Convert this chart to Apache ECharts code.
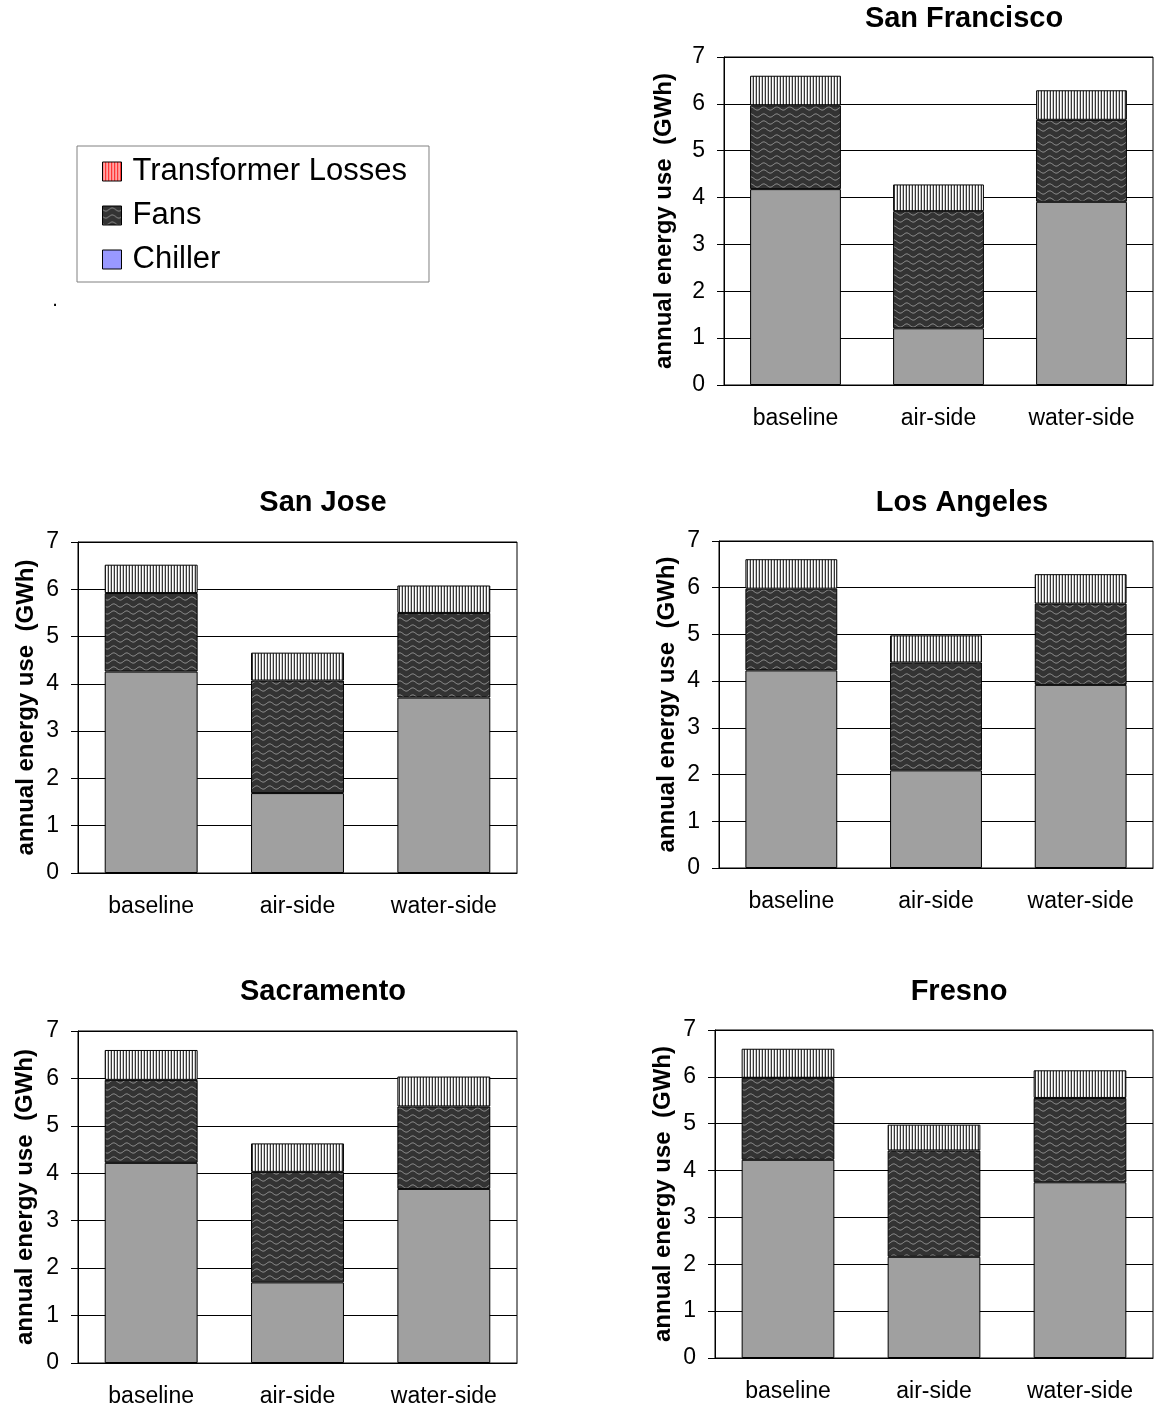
<!DOCTYPE html>
<html><head><meta charset="utf-8">
<script src="https://cdn.jsdelivr.net/npm/echarts@6/dist/echarts.min.js"></script>
<style>html,body{margin:0;padding:0;background:#fff}#c{width:1154px;height:1412px}</style>
</head><body><div id="c"></div>
<script>
// ---- data ----
const categories = ['baseline', 'air-side', 'water-side'];
const cities = ['San Francisco', 'San Jose', 'Los Angeles', 'Sacramento', 'Fresno'];
const seriesNames = ['Chiller', 'Fans', 'Transformer Losses'];
const yTickValues = [0, 1, 2, 3, 4, 5, 6, 7];

const chillerSF = [4.18, 1.21, 3.91];
const fansSF = [1.79, 2.50, 1.75];
const transSF = [0.63, 0.57, 0.63];

const chillerSJ = [4.26, 1.69, 3.71];
const fansSJ = [1.66, 2.38, 1.79];
const transSJ = [0.60, 0.59, 0.58];

const chillerLA = [4.23, 2.09, 3.92];
const fansLA = [1.75, 2.31, 1.74];
const transLA = [0.63, 0.58, 0.63];

const chillerSac = [4.22, 1.70, 3.67];
const fansSac = [1.75, 2.33, 1.74];
const transSac = [0.63, 0.60, 0.63];

const chillerFresno = [4.23, 2.16, 3.75];
const fansFresno = [1.75, 2.27, 1.80];
const transFresno = [0.62, 0.55, 0.59];

const chillerData = [chillerSF, chillerSJ, chillerLA, chillerSac, chillerFresno];
const fansData = [fansSF, fansSJ, fansLA, fansSac, fansFresno];
const transData = [transSF, transSJ, transLA, transSac, transFresno];

// ---- layout ----
const layouts = [
  {left: 724, top: 57, width: 429, height: 328, titleX: 964, titleY: 19, nameGap: 48},
  {left: 78, top: 542, width: 439, height: 331, titleX: 323, titleY: 503, nameGap: 40},
  {left: 719, top: 541, width: 434, height: 327, titleX: 962, titleY: 503, nameGap: 40},
  {left: 78, top: 1031, width: 439, height: 332, titleX: 323, titleY: 992, nameGap: 41},
  {left: 715, top: 1030, width: 438, height: 328, titleX: 959, titleY: 992, nameGap: 40}
];

// ---- patterns ----
function stripes(cols) {
  const c = document.createElement('canvas');
  c.width = cols.length; c.height = 2;
  const ctx = c.getContext('2d');
  cols.forEach((col, i) => { ctx.fillStyle = col; ctx.fillRect(i, 0, 1, 2); });
  return {image: c, repeat: 'repeat'};
}
function waves(bg, fg) {
  const c = document.createElement('canvas');
  c.width = 13; c.height = 7;
  const ctx = c.getContext('2d');
  ctx.fillStyle = bg; ctx.fillRect(0, 0, 13, 7);
  ctx.strokeStyle = fg; ctx.lineWidth = 1;
  ctx.beginPath();
  for (let x = -1; x <= 14; x += 0.5) {
    const y = 3.5 + 1.6 * Math.sin(2 * Math.PI * x / 13);
    if (x === -1) ctx.moveTo(x, y); else ctx.lineTo(x, y);
  }
  ctx.stroke();
  return {image: c, repeat: 'repeat'};
}
const transPattern = stripes(['#383838', '#ffffff', '#c4c4c4']);
const fansPattern = waves('#333333', '#9a9a9a');
const legTransPattern = stripes(['#ff1a1a', '#ffffff', '#ff4d4d']);
const chillerColor = '#a0a0a0';

const FONT = 'Liberation Sans, Arial, sans-serif';

const grid = [], xAxis = [], yAxis = [], series = [], graphic = [];
layouts.forEach((L, i) => {
  grid.push({left: L.left, top: L.top, width: L.width, height: L.height, show: true,
    borderColor: '#000', borderWidth: 1, backgroundColor: '#fff', containLabel: false});
  xAxis.push({type: 'category', gridIndex: i, data: categories,
    axisLine: {show: true, lineStyle: {color: '#000', width: 1}},
    axisTick: {show: false},
    axisLabel: {color: '#000', fontFamily: FONT, fontSize: 23, margin: 22},
    splitLine: {show: false}});
  yAxis.push({type: 'value', gridIndex: i, min: yTickValues[0], max: yTickValues[yTickValues.length - 1], interval: 1,
    name: 'annual energy use  (GWh)', nameLocation: 'middle', nameRotate: 90, nameGap: L.nameGap,
    nameTextStyle: {color: '#000', fontFamily: FONT, fontSize: 24, fontWeight: 'bold'},
    axisLine: {show: true, lineStyle: {color: '#000', width: 1}},
    axisTick: {show: true, inside: false, length: 7, lineStyle: {color: '#000', width: 1}},
    axisLabel: {color: '#000', fontFamily: FONT, fontSize: 23, margin: 19},
    splitLine: {show: true, lineStyle: {color: '#000', width: 1}}});
  const common = {type: 'bar', xAxisIndex: i, yAxisIndex: i, stack: 's' + i, barWidth: '63.5%',
    emphasis: {disabled: true}, silent: true};
  series.push(Object.assign({}, common, {name: seriesNames[0], data: chillerData[i],
    itemStyle: {color: chillerColor, borderColor: '#000', borderWidth: 1}}));
  series.push(Object.assign({}, common, {name: seriesNames[1], data: fansData[i],
    itemStyle: {color: fansPattern, borderColor: '#000', borderWidth: 1}}));
  series.push(Object.assign({}, common, {name: seriesNames[2], data: transData[i],
    itemStyle: {color: transPattern, borderColor: '#000', borderWidth: 1}}));
  graphic.push({type: 'text', x: L.titleX, y: L.titleY, silent: true,
    style: {text: cities[i], font: 'bold 29px ' + FONT, fill: '#000',
      align: 'center', verticalAlign: 'middle', textAlign: 'center', textVerticalAlign: 'middle'}});
});
graphic.push({type: 'text', x: 55, y: 300, silent: true,
  style: {text: '.', font: '20px ' + FONT, fill: '#000', align: 'center', verticalAlign: 'middle'}});

const option = {
  animation: false,
  backgroundColor: '#fff',
  grid, xAxis, yAxis, series, graphic,
  legend: {
    orient: 'vertical', left: 77, top: 146, padding: [10, 22, 7, 25], itemGap: 13,
    itemWidth: 19, itemHeight: 19, selectedMode: false,
    backgroundColor: '#fff', borderColor: '#808080', borderWidth: 1, borderRadius: 0,
    textStyle: {fontFamily: FONT, fontSize: 31, color: '#000', padding: [0, 0, 0, 6]},
    data: [
      {name: 'Transformer Losses', icon: 'rect', itemStyle: {color: legTransPattern, borderColor: '#000', borderWidth: 1}},
      {name: 'Fans', icon: 'rect', itemStyle: {color: fansPattern, borderColor: '#000', borderWidth: 1}},
      {name: 'Chiller', icon: 'rect', itemStyle: {color: '#9999ff', borderColor: '#000', borderWidth: 1}}
    ]
  }
};
const chart = echarts.init(document.getElementById('c'), null, {renderer: 'canvas'});
chart.setOption(option);
</script></body></html>
